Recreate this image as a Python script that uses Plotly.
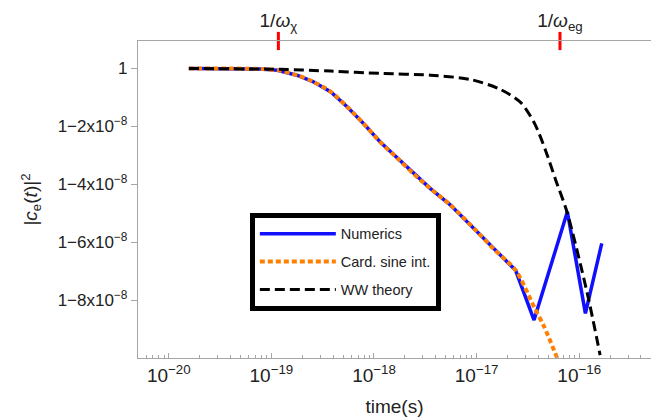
import plotly.graph_objects as go

# Excited-state population |c_e(t)|^2, stored as deviation from 1 in units of 1e-8
t_numerics = [1.57e-20, 4.0e-20, 7.85e-20, 1.15e-19, 1.80e-19, 2.57e-19, 3.8e-19,
              5.5e-19, 7.9e-19, 1.15e-18, 1.70e-18, 2.4e-18, 3.55e-18, 5.5e-18,
              1.0e-17, 1.48e-17, 2.4e-17, 3.63e-17, 7.67e-17, 1.15e-16, 1.66e-16]
dev_numerics = [0.0, 0.0, -0.02, -0.06, -0.24, -0.46, -0.81,
                -1.33, -1.90, -2.54, -3.11, -3.62, -4.15, -4.70,
                -5.62, -6.25, -6.97, -8.69, -4.95, -8.46, -6.04]

t_cardsine = [1.57e-20, 4.0e-20, 7.85e-20, 1.15e-19, 1.80e-19, 2.57e-19, 3.8e-19,
              5.5e-19, 7.9e-19, 1.15e-18, 1.70e-18, 2.4e-18, 3.55e-18, 5.5e-18,
              1.0e-17, 1.48e-17, 2.4e-17, 3.63e-17, 4.57e-17, 6.1e-17]
dev_cardsine = [0.0, 0.0, -0.02, -0.06, -0.24, -0.46, -0.81,
                -1.33, -1.90, -2.54, -3.11, -3.62, -4.15, -4.70,
                -5.62, -6.25, -6.97, -8.23, -8.93, -10.0]

t_ww = [1.57e-20, 1.2e-19, 3.8e-19, 1.15e-18, 3.55e-18, 8.7e-18, 1.7e-17,
        2.7e-17, 3.7e-17, 4.7e-17, 5.9e-17, 7.6e-17, 1.2e-16, 1.6e-16]
dev_ww = [0.0, -0.03, -0.09, -0.17, -0.23, -0.38, -0.72,
          -1.18, -1.92, -2.83, -3.85, -4.95, -7.77, -9.9]

# Characteristic time scales marked on the top frame
scale_times = [1.17e-19, 6.5e-17]
scale_labels = ["1/<i>ω</i><sub>χ</sub>", "1/<i>ω</i><sub>eg</sub>"]

# Y tick labels
y_tickvals = [0, -2, -4, -6, -8]
y_ticktext = ["1", "1−2x10<sup>−8</sup>", "1−4x10<sup>−8</sup>",
              "1−6x10<sup>−8</sup>", "1−8x10<sup>−8</sup>"]

# X tick labels
x_exponents = [20, 19, 18, 17, 16]
x_tickvals = [10.0 ** -e for e in x_exponents]
x_ticktext = ["10<sup>−{}</sup>".format(e) for e in x_exponents]
x_minorvals = [m * 10.0 ** e for e in range(-21, -15) for m in range(2, 10)]

FONT = "Liberation Sans, Arial, sans-serif"
AXIS_GRAY = "#a6a6a6"
TEXT = "#222"

fig = go.Figure()

fig.add_trace(go.Scatter(
    x=t_numerics, y=dev_numerics, mode="lines", name="Numerics",
    line=dict(color="#1010ff", width=3.5), legendgroup="a"))
fig.add_trace(go.Scatter(
    x=t_cardsine, y=dev_cardsine, mode="lines", name="Card. sine int.",
    line=dict(color="#ff8000", width=4, dash="5px,3px", shape="spline", smoothing=0.8),
    legendgroup="b"))
fig.add_trace(go.Scatter(
    x=t_ww, y=dev_ww, mode="lines", name="WW theory",
    line=dict(color="black", width=3, dash="10px,5px", shape="spline", smoothing=0.8),
    legendgroup="c"))

# red markers on the top frame with their labels
fig.add_trace(go.Scatter(
    x=scale_times, y=[0.95, 0.95], mode="markers+text",
    marker=dict(symbol="line-ns", size=13, line=dict(color="#ff0000", width=3)),
    text=scale_labels, textposition="top center",
    textfont=dict(family=FONT, size=19, color=TEXT),
    cliponaxis=False, showlegend=False, hoverinfo="skip"))

fig.update_layout(
    width=651, height=420,
    margin=dict(l=138, r=0, t=41, b=62),
    plot_bgcolor="white", paper_bgcolor="white",
    font=dict(family=FONT, color=TEXT),
    showlegend=True,
    legend=dict(
        x=0.218, y=0.458, xanchor="left", yanchor="top",
        bgcolor="white", bordercolor="black", borderwidth=5,
        font=dict(family=FONT, size=14.5, color=TEXT),
        itemwidth=76, tracegroupgap=6,
    ),
    xaxis=dict(
        type="log", range=[-20.30, -15.30],
        showline=True, linecolor=AXIS_GRAY, linewidth=1.3, mirror=True,
        showgrid=False, zeroline=False,
        tickmode="array", tickvals=x_tickvals, ticktext=x_ticktext,
        ticks="inside", ticklen=5, tickcolor=AXIS_GRAY, tickwidth=1,
        minor=dict(tickmode="array", tickvals=x_minorvals, ticks="inside",
                   ticklen=3, tickcolor=AXIS_GRAY, showgrid=False),
        tickfont=dict(family=FONT, size=19, color=TEXT),
        title=dict(text="time(s)", font=dict(family=FONT, size=19, color=TEXT), standoff=14),
    ),
    yaxis=dict(
        range=[-10.0, 0.95],
        showline=True, linecolor=AXIS_GRAY, linewidth=1.3,
        showgrid=False, zeroline=False,
        tickmode="array", tickvals=y_tickvals, ticktext=y_ticktext,
        ticks="outside", ticklen=6, tickcolor=AXIS_GRAY, tickwidth=1,
        tickfont=dict(family=FONT, size=17, color=TEXT),
        title=dict(text="|<i>c</i><sub>e</sub>(<i>t</i>)|<sup>2</sup>",
                   font=dict(family=FONT, size=19, color=TEXT), standoff=14),
    ),
)

fig.write_html("out.html")
